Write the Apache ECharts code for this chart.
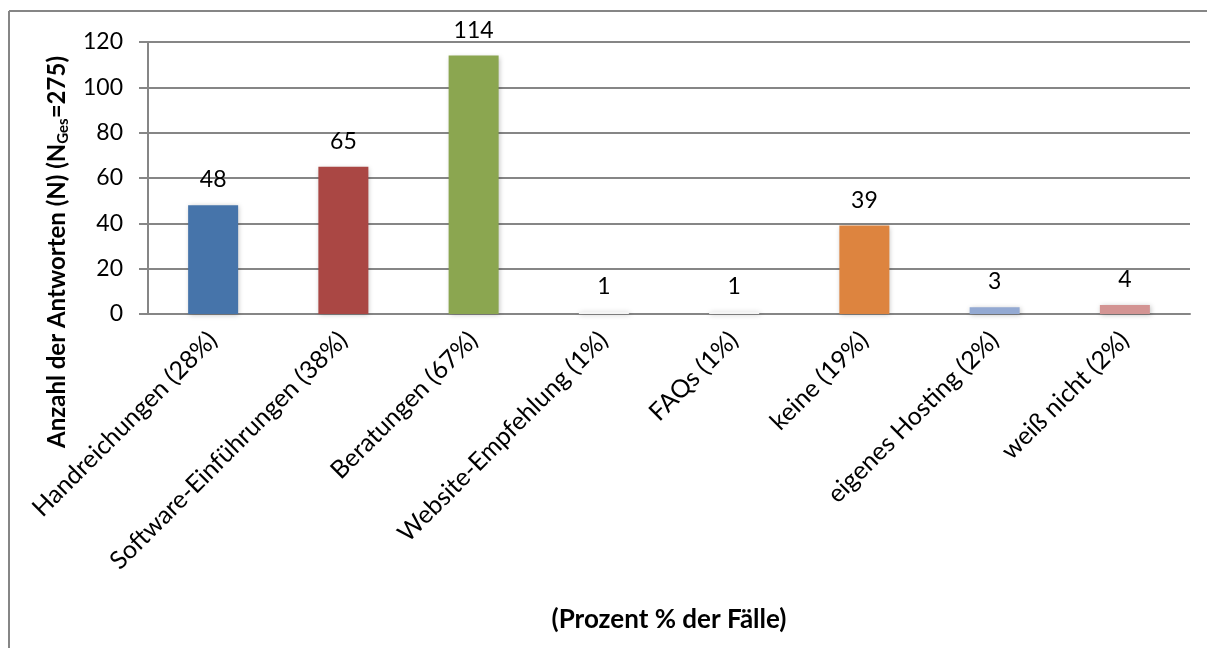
<!DOCTYPE html>
<html><head><meta charset="utf-8">
<script src="https://cdn.jsdelivr.net/npm/echarts@6/dist/echarts.min.js"></script>
<style>html,body{margin:0;padding:0;background:#fff}#c{width:1207px;height:648px}</style>
</head><body><div id="c"></div>
<script>
const categories = ["Handreichungen (28%)","Software-Einführungen (38%)","Beratungen (67%)","Website-Empfehlung (1%)","FAQs (1%)","keine (19%)","eigenes Hosting (2%)","weiß nicht (2%)"];
const values = [48, 65, 114, 1, 1, 39, 3, 4];
const barColors = ["#4674AA","#AA4744","#8BA650","#F4F4F4","#F4F4F4","#DD843F","#93A9D2","#D39493"];
const yTicks = [0, 20, 40, 60, 80, 100, 120];

const FONT = "Lato";
const chart = echarts.init(document.getElementById('c'));
chart.setOption({
  animation: false,
  textStyle: {fontFamily: FONT},
  grid: {left: 148, right: 17, top: 42, bottom: 334},
  xAxis: {
    type: 'category', data: categories,
    axisLine: {lineStyle: {color: '#868686', width: 2}},
    axisTick: {show: false},
    axisLabel: {rotate: 45, fontSize: 25, color: '#000', margin: 22, fontFamily: FONT, interval: 0},
    name: '(Prozent % der Fälle)', nameLocation: 'middle', nameGap: 293,
    nameTextStyle: {fontSize: 26, fontWeight: 'bold', color: '#000', fontFamily: FONT}
  },
  yAxis: {
    type: 'value', min: yTicks[0], max: yTicks[yTicks.length-1], interval: 20,
    axisLine: {show: true, lineStyle: {color: '#868686', width: 2}},
    axisTick: {show: true, length: 9, lineStyle: {color: '#868686', width: 2}},
    axisLabel: {fontSize: 23, color: '#000', margin: 25, fontFamily: FONT},
    splitLine: {lineStyle: {color: '#868686', width: 2}}
  },
  graphic: [
    {type: 'line', shape: {x1: 9, y1: 11, x2: 1207, y2: 11}, style: {stroke: '#868686', lineWidth: 2}},
    {type: 'line', shape: {x1: 9, y1: 11, x2: 9, y2: 648}, style: {stroke: '#868686', lineWidth: 2}},
    {type: 'text', x: 57, y: 252, rotation: Math.PI/2,
     style: {
       text: '{b|Anzahl der Antworten (N) (N}{s|Ges}{b|=275)}',
       align: 'center', verticalAlign: 'middle',
       rich: {
         b: {fontSize: 24, fontWeight: 'bold', fill: '#000', fontFamily: FONT},
         s: {fontSize: 15, fontWeight: 'bold', fill: '#000', fontFamily: FONT, padding: [12, 0, 0, 0]}
       }
     }}
  ],
  series: [{
    type: 'bar',
    data: values.map((v, i) => ({value: v, itemStyle: {color: barColors[i]}})),
    barWidth: 50,
    itemStyle: {shadowBlur: 5, shadowColor: 'rgba(0,0,0,0.25)', shadowOffsetX: 1, shadowOffsetY: 1},
    label: {show: true, position: 'top', distance: 14, fontSize: 23, color: '#000', fontFamily: FONT}
  }]
});
</script></body></html>
